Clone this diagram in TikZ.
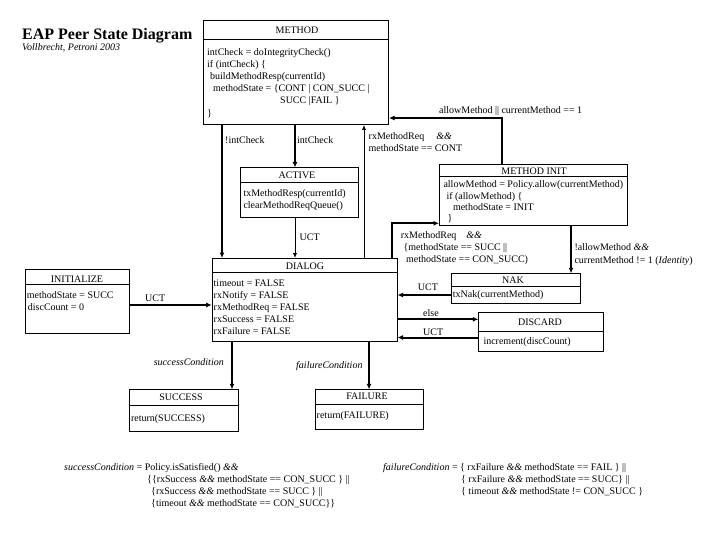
\documentclass[tikz,border=0pt]{standalone}
\usepackage{fontspec}
\setmainfont{Liberation Serif}
\usetikzlibrary{arrows.meta,calc}
\begin{document}
\begin{tikzpicture}[x=1pt,y=-1pt,
  box/.style={draw, line width=1pt, anchor=north west, inner sep=0pt},
  divline/.style={line width=1pt},
  ttl/.style={inner sep=0pt, anchor=base, font=\fontsize{10}{12}\selectfont},
  lbl/.style={inner sep=0pt, anchor=base west, font=\fontsize{10}{12}\selectfont},
  body/.style={inner sep=0pt, anchor=north west, align=left, font=\fontsize{10}{12}\selectfont},
  thk/.style={line width=2pt, -{Latex[length=5.5pt,width=5pt]}},
  thn/.style={line width=1pt, -{Latex[length=5pt,width=4.5pt]}}
]
\useasboundingbox[fill=white] (0,0) rectangle (720,540);

% title
\node[inner sep=0pt, anchor=base west, font=\fontsize{16}{19}\selectfont\bfseries] (title) at (22,39.5) {EAP Peer State Diagram};
\node[inner sep=0pt, anchor=base west, font=\fontsize{10}{12}\selectfont\itshape] (subtitle) at (22,51) {Vollbrecht, Petroni 2003};

% METHOD
\node[box, minimum width=185pt, minimum height=104pt] (method) at (203,20) {};
\draw[divline] ([yshift=-20pt]method.north west) -- ([yshift=-20pt]method.north east);
\node[ttl] (methodT) at (297,33.5) {METHOD};
\node[body, font=\fontsize{10}{12.2}\selectfont] (methodB) at (207,48) {intCheck = doIntegrityCheck()\\
if (intCheck) \{\\
\hspace*{3pt}buildMethodResp(currentId)\\
\hspace*{6pt}methodState = \{CONT | CON\_SUCC |\\
\hspace*{73pt}SUCC |FAIL \}\\
\}};

% ACTIVE
\node[box, minimum width=118pt, minimum height=49.5pt] (active) at (240,167.5) {};
\draw[divline] ([yshift=-14.8pt]active.north west) -- ([yshift=-14.8pt]active.north east);
\node[ttl] (activeT) at (297,179) {ACTIVE};
\node[body, font=\fontsize{10}{11.5}\selectfont] (activeB) at (243.3,189.8) {txMethodResp(currentId)\\clearMethodReqQueue()};

% METHOD INIT
\node[box, minimum width=188pt, minimum height=61pt] (minit) at (439,164) {};
\draw[divline] ([yshift=-12.5pt]minit.north west) -- ([yshift=-12.5pt]minit.north east);
\node[ttl] (minitT) at (534,174.3) {METHOD INIT};
\node[body, font=\fontsize{10}{11.4}\selectfont] (minitB) at (443.3,180.5) {allowMethod = Policy.allow(currentMethod)\\
\hspace*{3pt}if (allowMethod) \{\\
\hspace*{9.5pt}methodState = INIT\\
\hspace*{4pt}\}};

% DIALOG
\node[box, minimum width=184.8pt, minimum height=82.5pt] (dialog) at (211.7,258) {};
\draw[divline] ([yshift=-14.7pt]dialog.north west) -- ([yshift=-14.7pt]dialog.north east);
\node[ttl] (dialogT) at (305,269.5) {DIALOG};
\node[body] (dialogB) at (213.5,279.2) {timeout = FALSE\\rxNotify = FALSE\\rxMethodReq = FALSE\\rxSuccess = FALSE\\rxFailure = FALSE};

% INITIALIZE
\node[box, minimum width=104pt, minimum height=64pt] (init) at (25,269) {};
\draw[divline] ([yshift=-15.5pt]init.north west) -- ([yshift=-15.5pt]init.north east);
\node[ttl] (initT) at (77,282.5) {INITIALIZE};
\node[body] (initB) at (26.7,291.5) {methodState = SUCC\\\hspace*{1pt}discCount = 0};

% NAK
\node[box, minimum width=129.3pt, minimum height=30pt] (nak) at (451,273.3) {};
\draw[divline] ([yshift=-12.7pt]nak.north west) -- ([yshift=-12.7pt]nak.north east);
\node[ttl] (nakT) at (513,283.3) {NAK};
\node[lbl] (nakB) at (452.7,297.3) {txNak(currentMethod)};

% DISCARD
\node[box, minimum width=125pt, minimum height=38.4pt] (discard) at (478.3,312.3) {};
\draw[divline] ([yshift=-19pt]discard.north west) -- ([yshift=-19pt]discard.north east);
\node[ttl] (discardT) at (540,325.2) {DISCARD};
\node[lbl] (discardB) at (483.3,344.8) {increment(discCount)};

% SUCCESS
\node[box, minimum width=109pt, minimum height=41.4pt] (success) at (129.3,389.3) {};
\draw[divline] ([yshift=-15.7pt]success.north west) -- ([yshift=-15.7pt]success.north east);
\node[ttl] (successT) at (181,400.2) {SUCCESS};
\node[lbl] (successB) at (130.8,421.2) {return(SUCCESS)};

% FAILURE
\node[box, minimum width=108.3pt, minimum height=40pt] (failure) at (315,389.3) {};
\draw[divline] ([yshift=-14.7pt]failure.north west) -- ([yshift=-14.7pt]failure.north east);
\node[ttl] (failureT) at (367,399.5) {FAILURE};
\node[lbl] (failureB) at (316.5,418.5) {return(FAILURE)};

% connector positions
\coordinate (xa) at (222,0);
\coordinate (xb) at (295,0);
\coordinate (xc) at (364,0);
\coordinate (xd) at (392,0);
\coordinate (xe) at (502,0);
\coordinate (xf) at (571,0);
\coordinate (xg) at (232,0);
\coordinate (xh) at (369,0);
\coordinate (ya) at (0,118);
\coordinate (yb) at (0,223.3);
\coordinate (yc) at (0,295);
\coordinate (yd) at (0,319.3);
\coordinate (ye) at (0,337.5);
\coordinate (yf) at (0,305);

% connectors
\draw[thk] (xa |- method.south) -- (xa |- dialog.north);
\draw[thk] (xb |- method.south) -- (xb |- active.north);
\draw[thn] (xb |- active.south) -- (xb |- dialog.north);
\draw[thn] (xc |- dialog.north) -- (xc |- method.south);
\draw[thk] (xe |- minit.north) -- (xe |- ya) -- (method.east |- ya);
\draw[thk] (xd |- dialog.north) -- (xd |- yb) -- (minit.west |- yb);
\draw[thk] (xf |- minit.south) -- (xf |- nak.north);
\draw[thk] (nak.west |- yc) -- (dialog.east |- yc);
\draw[thk] (dialog.east |- yd) -- (discard.west |- yd);
\draw[thk] (discard.west |- ye) -- (dialog.east |- ye);
\draw[thk] (init.east |- yf) -- (dialog.west |- yf);
\draw[thk] (xg |- dialog.south) -- (xg |- success.north);
\draw[thk] (xh |- dialog.south) -- (xh |- failure.north);

% connector labels
\node[lbl] (l1) at (225,143.5) {!intCheck};
\node[lbl] (l2) at (297,143.5) {intCheck};
\node[lbl] (l3) at (299.5,240.8) {UCT};
\node[lbl] (l4) at (368.5,140) {rxMethodReq\hspace{12pt}\textit{\&\&}};
\node[lbl] (l5) at (368.5,151.2) {methodState == CONT};
\node[lbl] (l6) at (439,113.5) {allowMethod || currentMethod == 1};
\node[lbl] (l7) at (400.7,238.5) {rxMethodReq\hspace{10pt}\textit{\&\&}};
\node[lbl] (l8) at (403.3,250.2) {\{methodState == SUCC ||};
\node[lbl] (l9) at (406,262.5) {methodState == CON\_SUCC)};
\node[lbl] (l10) at (574.3,250.2) {!allowMethod \textit{\&\&}};
\node[lbl] (l11) at (574.3,263.5) {currentMethod != 1 (\textit{Identity})};
\node[lbl] (l12) at (417.7,290) {UCT};
\node[lbl] (l13) at (423,316.5) {else};
\node[lbl] (l14) at (423,335.5) {UCT};
\node[lbl] (l15) at (145,301.6) {UCT};
\node[inner sep=0pt, anchor=base east, font=\fontsize{10}{12}\selectfont\itshape] (l16) at (224,365.5) {successCondition};
\node[inner sep=0pt, anchor=base west, font=\fontsize{10}{12}\selectfont\itshape] (l17) at (296,368.5) {failureCondition};

% conditions
\node[body] (scond) at (64,463) {\textit{successCondition} = Policy.isSatisfied() \textit{\&\&}\\
\hspace*{83pt}\{\{rxSuccess \textit{\&\&} methodState == CON\_SUCC \} ||\\
\hspace*{87pt}\{rxSuccess \textit{\&\&} methodState == SUCC \} ||\\
\hspace*{87pt}\{timeout \textit{\&\&} methodState == CON\_SUCC\}\}};
\node[body] (fcond) at (383,463) {\textit{failureCondition} = \{ rxFailure \textit{\&\&} methodState == FAIL \} ||\\
\hspace*{78pt}\{ rxFailure \textit{\&\&} methodState == SUCC\} ||\\
\hspace*{78pt}\{ timeout \textit{\&\&} methodState != CON\_SUCC \}};
\end{tikzpicture}
\end{document}
